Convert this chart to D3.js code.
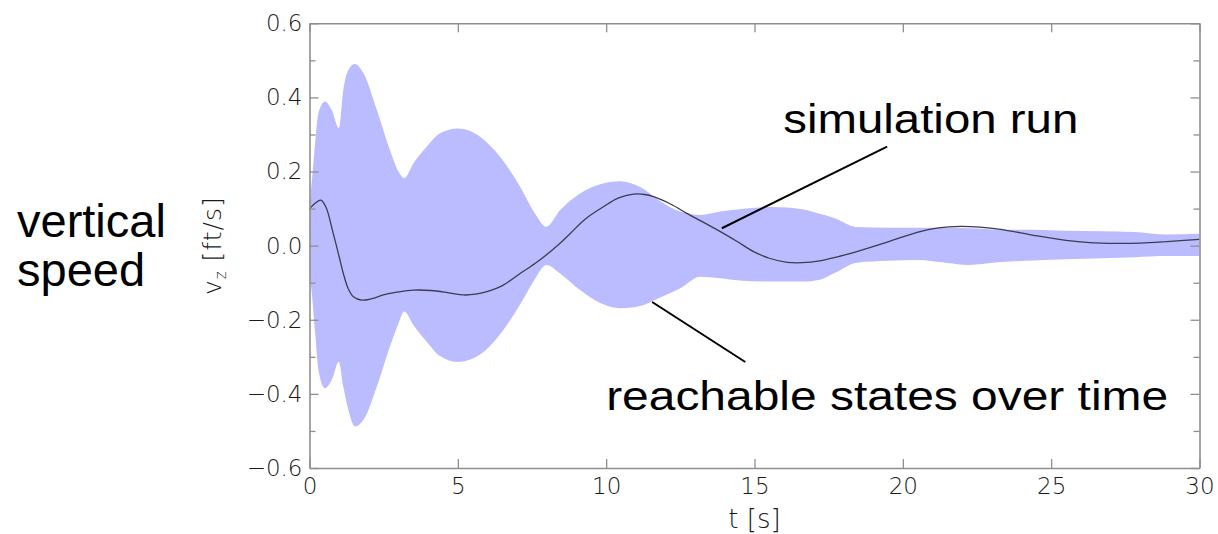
<!DOCTYPE html>
<html>
<head>
<meta charset="utf-8">
<script src="https://cdn.jsdelivr.net/npm/d3@7"></script>
<style>
  html, body { margin: 0; padding: 0; background: #fff; }
  svg { display: block; }
</style>
</head>
<body>
<svg id="chart" width="1218" height="534"></svg>
<script>
// Time samples of the reachable-set envelope [s]
const envTime = [0, 0.05, 0.19, 0.3, 0.52, 0.75, 0.99, 1.14, 1.31, 1.53, 1.82, 2.27, 2.71, 3.0, 3.19, 3.5, 3.95, 4.4, 5.0, 5.75, 6.42, 7.1, 7.6, 7.98, 8.45, 9.12, 9.8, 10.47, 11.15, 11.82, 12.5, 13.17, 13.85, 14.5, 15.6, 16.6, 17.2, 17.7, 18.45, 19.5, 20.5, 21.5, 22.2, 23.3, 24.4, 25.5, 26.7, 27.8, 28.9, 30];
// Upper bound of reachable vertical speed [ft/s]
const envUpper = [0.12, 0.15, 0.276, 0.357, 0.389, 0.366, 0.317, 0.42, 0.474, 0.49, 0.465, 0.366, 0.258, 0.2, 0.182, 0.222, 0.267, 0.303, 0.316, 0.294, 0.24, 0.159, 0.087, 0.051, 0.096, 0.141, 0.166, 0.174, 0.158, 0.12, 0.092, 0.083, 0.092, 0.098, 0.104, 0.098, 0.086, 0.074, 0.05, 0.048, 0.048, 0.048, 0.047, 0.043, 0.043, 0.04, 0.039, 0.037, 0.03, 0.032];
// Lower bound of reachable vertical speed [ft/s]
const envLower = [-0.09, -0.11, -0.236, -0.335, -0.385, -0.362, -0.313, -0.38, -0.443, -0.488, -0.47, -0.38, -0.272, -0.21, -0.178, -0.214, -0.259, -0.298, -0.314, -0.294, -0.24, -0.159, -0.09, -0.052, -0.075, -0.12, -0.155, -0.169, -0.163, -0.14, -0.115, -0.084, -0.088, -0.094, -0.097, -0.097, -0.092, -0.074, -0.046, -0.041, -0.039, -0.047, -0.052, -0.044, -0.04, -0.037, -0.034, -0.031, -0.028, -0.028];

// A single simulated trajectory
const simTime = [0, 0.2, 0.38, 0.55, 0.8, 1.0, 1.14, 1.3, 1.48, 1.76, 2.1, 2.49, 3.0, 3.5, 4.1, 4.74, 5.19, 5.6, 5.98, 6.5, 7.1, 7.6, 7.98, 8.4, 8.79, 9.3, 9.91, 10.4, 10.92, 11.3, 11.6, 12.2, 12.72, 13.3, 13.85, 14.4, 14.97, 15.5, 16.1, 16.6, 17.2, 17.8, 18.45, 19.5, 20.48, 21.2, 21.94, 22.6, 23.3, 24.4, 25.5, 26.3, 27.2, 28.0, 28.9, 30];
const simSpeed = [0.099, 0.115, 0.123, 0.105, 0.033, -0.03, -0.075, -0.115, -0.138, -0.147, -0.143, -0.133, -0.125, -0.12, -0.121, -0.128, -0.133, -0.131, -0.124, -0.108, -0.075, -0.048, -0.025, 0.003, 0.033, 0.072, 0.105, 0.128, 0.139, 0.138, 0.132, 0.111, 0.087, 0.062, 0.038, 0.012, -0.016, -0.034, -0.045, -0.046, -0.041, -0.030, -0.016, 0.010, 0.036, 0.048, 0.052, 0.050, 0.044, 0.028, 0.014, 0.008, 0.006, 0.007, 0.011, 0.017];

// Axis ticks
const xTicks = [0, 5, 10, 15, 20, 25, 30];
const yMajorTicks = [-0.6, -0.4, -0.2, 0.0, 0.2, 0.4, 0.6];
const yMinorTicks = [-0.5, -0.3, -0.1, 0.1, 0.3, 0.5];

// Callouts: label text, anchor point of the text and leader line ends, in data units
const callouts = [
  { text: "simulation run", at: [15.97, 0.303], from: [19.47, 0.267], to: [13.9, 0.047], width: 295 },
  { text: "reachable states over time", at: [10.0, -0.443], from: [11.55, -0.152], to: [14.69, -0.314], width: 562 }
];

const svg = d3.select("#chart");
const plotLeft = 309.5, plotRight = 1199.5, plotTop = 23.3, plotBottom = 468;

const x = d3.scaleLinear().domain([0, 30]).range([plotLeft, plotRight]);
const y = d3.scaleLinear().domain([-0.6, 0.6]).range([plotBottom, plotTop]);

const axisColor = "#8f8f8f";
const labelColor = "#1a1a1a";
const fmt = d3.format(".1f");

// Reachable set band
const band = envTime.map((t, i) => ({ t, lo: envLower[i], hi: envUpper[i] }));
svg.append("path")
  .datum(band)
  .attr("fill", "#bbbbff")
  .attr("d", d3.area()
    .x(d => x(d.t))
    .y0(d => y(d.lo))
    .y1(d => y(d.hi))
    .curve(d3.curveMonotoneX));

// Simulation run
const sim = simTime.map((t, i) => ({ t, v: simSpeed[i] }));
svg.append("path")
  .datum(sim)
  .attr("fill", "none")
  .attr("stroke", "#3c3c4a")
  .attr("stroke-width", 1.3)
  .attr("d", d3.line().x(d => x(d.t)).y(d => y(d.v)).curve(d3.curveCatmullRom.alpha(0.5)));

// Frame axes with inward ticks
function styleAxis(g) {
  g.selectAll(".domain").attr("stroke", axisColor).attr("stroke-width", 1.6);
  g.selectAll(".tick line").attr("stroke", axisColor).attr("stroke-width", 1.3);
  g.selectAll(".tick text")
    .attr("fill", labelColor)
    .attr("font-family", "DejaVu Sans")
    .attr("font-weight", 200)
    .attr("font-size", 23);
}

svg.append("g")
  .attr("transform", `translate(0,${plotBottom})`)
  .call(d3.axisBottom(x).tickValues(xTicks).tickSizeInner(-9).tickSizeOuter(0).tickPadding(10).tickFormat(d3.format("d")))
  .call(styleAxis);

svg.append("g")
  .attr("transform", `translate(0,${plotTop})`)
  .call(d3.axisTop(x).tickValues(xTicks).tickSizeInner(-9).tickSizeOuter(0).tickFormat(""))
  .call(styleAxis);

svg.append("g")
  .attr("transform", `translate(${plotLeft},0)`)
  .call(d3.axisLeft(y).tickValues(yMajorTicks).tickSizeInner(-9).tickSizeOuter(0).tickPadding(7).tickFormat(fmt))
  .call(styleAxis);

svg.append("g")
  .attr("transform", `translate(${plotLeft},0)`)
  .call(d3.axisLeft(y).tickValues(yMinorTicks).tickSizeInner(-6).tickSizeOuter(0).tickFormat(""))
  .call(styleAxis)
  .select(".domain").remove();

svg.append("g")
  .attr("transform", `translate(${plotRight},0)`)
  .call(d3.axisRight(y).tickValues(yMajorTicks).tickSizeInner(-9).tickSizeOuter(0).tickFormat(""))
  .call(styleAxis);

svg.append("g")
  .attr("transform", `translate(${plotRight},0)`)
  .call(d3.axisRight(y).tickValues(yMinorTicks).tickSizeInner(-6).tickSizeOuter(0).tickFormat(""))
  .call(styleAxis)
  .select(".domain").remove();

// Axis titles
svg.append("text")
  .attr("x", x(15))
  .attr("y", 528)
  .attr("text-anchor", "middle")
  .attr("font-family", "DejaVu Sans")
  .attr("font-weight", 200)
  .attr("font-size", 26)
  .attr("fill", labelColor)
  .text("t [s]");

const yTitle = svg.append("text")
  .attr("transform", `translate(221,${y(0)}) rotate(-90)`)
  .attr("text-anchor", "middle")
  .attr("font-family", "DejaVu Sans")
  .attr("font-weight", 200)
  .attr("font-size", 25)
  .attr("letter-spacing", 1)
  .attr("fill", labelColor);
yTitle.append("tspan").text("v");
yTitle.append("tspan").attr("font-size", 15).attr("dy", 5).text("z");
yTitle.append("tspan").attr("dy", -5).text(" [ft/s]");

// Quantity name on the left
const qty = svg.append("text")
  .attr("font-family", "Liberation Sans, Arial, sans-serif")
  .attr("font-size", 47)
  .attr("fill", "#000");
qty.append("tspan").attr("x", 17).attr("y", 237).text("vertical");
qty.append("tspan").attr("x", 17).attr("y", 286).text("speed");

// Callouts
callouts.forEach(c => {
  svg.append("line")
    .attr("x1", x(c.from[0])).attr("y1", y(c.from[1]))
    .attr("x2", x(c.to[0])).attr("y2", y(c.to[1]))
    .attr("stroke", "#000")
    .attr("stroke-width", 2);
  svg.append("text")
    .attr("x", x(c.at[0]))
    .attr("y", y(c.at[1]))
    .attr("font-family", "Liberation Sans, Arial, sans-serif")
    .attr("font-size", 41)
    .attr("textLength", c.width)
    .attr("lengthAdjust", "spacingAndGlyphs")
    .attr("fill", "#000")
    .text(c.text);
});
</script>
</body>
</html>
